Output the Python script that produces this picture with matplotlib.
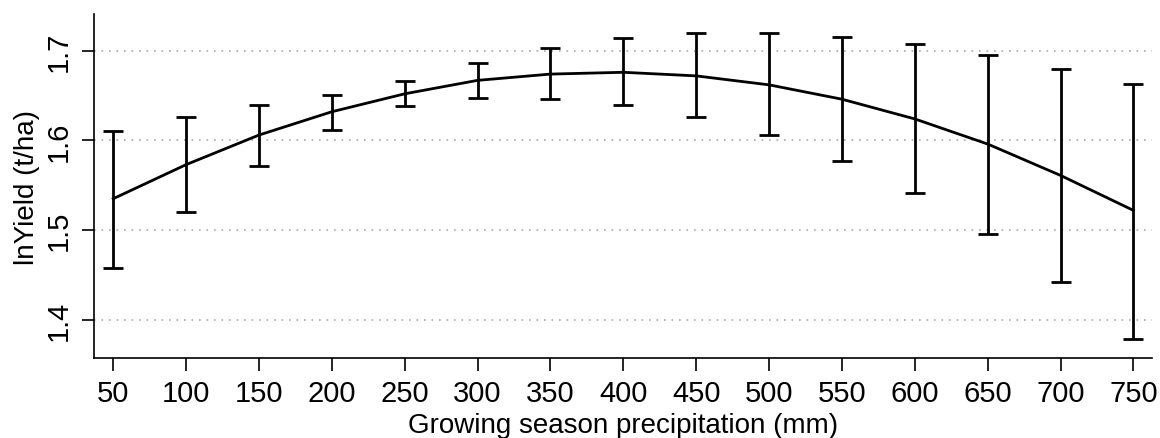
import matplotlib.pyplot as plt

plt.rcParams["font.family"] = ["Liberation Sans", "DejaVu Sans"]

# growing season precipitation (mm)
precip = [50, 100, 150, 200, 250, 300, 350, 400, 450, 500, 550, 600, 650, 700, 750]
# predicted lnYield and confidence interval bounds
fit = [1.535, 1.573, 1.606, 1.632, 1.652, 1.667, 1.674, 1.676, 1.672, 1.662,
       1.646, 1.624, 1.596, 1.561, 1.522]
upper = [1.610, 1.626, 1.640, 1.651, 1.666, 1.686, 1.703, 1.714, 1.720, 1.720,
         1.715, 1.707, 1.695, 1.680, 1.663]
lower = [1.458, 1.520, 1.571, 1.612, 1.638, 1.647, 1.646, 1.639, 1.626, 1.606,
         1.577, 1.541, 1.496, 1.442, 1.379]
yticks = [1.4, 1.5, 1.6, 1.7]

fig = plt.figure(figsize=(11.6, 4.39), dpi=100)
ax = fig.add_axes([0.081, 0.1815, 0.9119, 0.7843])

err_lo = [f - l for f, l in zip(fit, lower)]
err_hi = [u - f for f, u in zip(fit, upper)]

# dotted reference lines
for y in yticks:
    ax.axhline(y, color="#aaaaaa", lw=1.2, ls=(0, (1, 3.5)), zorder=0)

ax.errorbar(precip, fit, yerr=[err_lo, err_hi], color="black", lw=2.0,
            elinewidth=2.0, capsize=7, capthick=2.0)

ax.set_xlim(36.8, 762.6)
ax.set_ylim(1.357, 1.741)
ax.set_xticks(precip)
ax.set_yticks(yticks)
ax.set_yticklabels([str(y) for y in yticks], rotation=90, va="center")
ax.tick_params(axis="both", labelsize=21, length=9, width=1.2, pad=6)

for s in ["top", "right"]:
    ax.spines[s].set_visible(False)
for s in ["left", "bottom"]:
    ax.spines[s].set_linewidth(1.2)

ax.set_xlabel("Growing season precipitation (mm)", fontsize=20, labelpad=3.5)
ax.set_ylabel("lnYield (t/ha)", fontsize=20, labelpad=4)

fig.savefig("out.png", dpi=100)
